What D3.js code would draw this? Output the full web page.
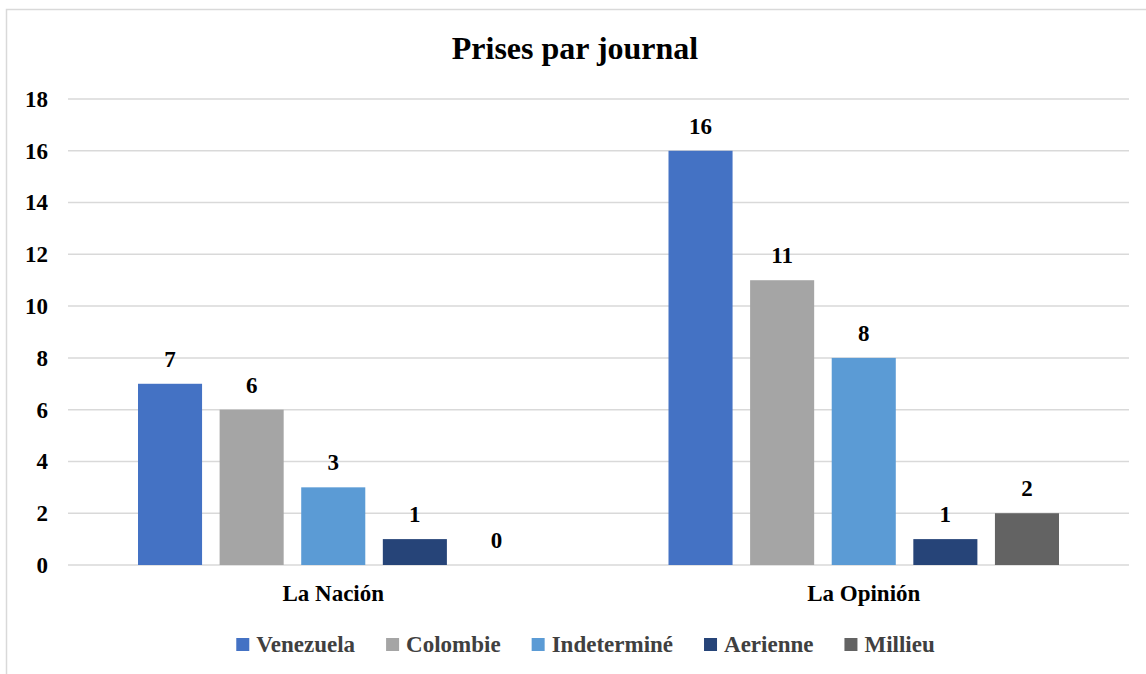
<!DOCTYPE html>
<html>
<head>
<meta charset="utf-8">
<script src="https://cdn.jsdelivr.net/npm/d3@7"></script>
<style>
  body { margin: 0; background: #fff; }
  svg { display: block; }
  text { font-family: "Liberation Serif", "Times New Roman", serif; font-weight: bold; }
</style>
</head>
<body>
<div id="visual"></div>
<script>
// data
var groups = ["La Nación", "La Opinión"]
var series = ["Venezuela", "Colombie", "Indeterminé", "Aerienne", "Millieu"]
var colors = ["#4472C4", "#A5A5A5", "#5B9BD5", "#264478", "#636363"]
var laNacion = [7, 6, 3, 1, 0]
var laOpinion = [16, 11, 8, 1, 2]
var yTicks = [0, 2, 4, 6, 8, 10, 12, 14, 16, 18]

var values = [laNacion, laOpinion]
var data = []
groups.forEach(function(g, gi) {
  series.forEach(function(s, si) {
    data.push({ group: g, key: s, value: values[gi][si] })
  })
})

var width = 1146, height = 674
var plot = { left: 68, right: 1129, top: 99, bottom: 565 }

var svg = d3.select("#visual")
  .append("svg")
  .attr("width", width)
  .attr("height", height)

// chart frame (cut by the picture at right and bottom)
svg.append("rect")
  .attr("x", 6.5).attr("y", 9.5)
  .attr("width", 1180).attr("height", 700)
  .attr("fill", "none")
  .attr("stroke", "#d9d9d9")
  .attr("stroke-width", 1.5)

// title
svg.append("text")
  .attr("x", 575).attr("y", 59)
  .attr("text-anchor", "middle")
  .style("font-size", "32px")
  .attr("fill", "#000")
  .text("Prises par journal")

var y = d3.scaleLinear()
  .domain([0, 18])
  .range([plot.bottom, plot.top])

var x0 = d3.scaleBand()
  .domain(groups)
  .range([plot.left, plot.right])
  .padding(0)

var inner = 70
var x1 = d3.scaleBand()
  .domain(series)
  .range([inner, x0.bandwidth() - inner])
  .paddingInner(0.215)
  .paddingOuter(0)

var color = d3.scaleOrdinal().domain(series).range(colors)

// gridlines
svg.append("g")
  .selectAll("line")
  .data(yTicks)
  .enter()
  .append("line")
  .attr("x1", plot.left).attr("x2", plot.right)
  .attr("y1", function(d) { return y(d) })
  .attr("y2", function(d) { return y(d) })
  .attr("stroke", "#d9d9d9")
  .attr("stroke-width", 1.5)

// y axis labels
var yAxis = svg.append("g")
  .attr("transform", "translate(" + (plot.left - 20) + ",0)")
  .call(d3.axisLeft(y).tickValues(yTicks).tickSize(0).tickPadding(0))
yAxis.select(".domain").remove()
yAxis.selectAll("text")
  .style("font-size", "23px")
  .style("font-family", "'Liberation Serif', 'Times New Roman', serif")
  .style("font-weight", "bold")
  .attr("fill", "#000")

// x axis labels
var xAxis = svg.append("g")
  .attr("transform", "translate(0," + plot.bottom + ")")
  .call(d3.axisBottom(x0).tickSize(0).tickPadding(0))
xAxis.select(".domain").remove()
xAxis.selectAll("text")
  .attr("dy", null)
  .attr("y", 36)
  .style("font-size", "23px")
  .style("font-family", "'Liberation Serif', 'Times New Roman', serif")
  .style("font-weight", "bold")
  .attr("fill", "#000")

// bars
var bars = svg.append("g")
bars.selectAll("rect")
  .data(data)
  .enter()
  .append("rect")
  .attr("x", function(d) { return x0(d.group) + x1(d.key) })
  .attr("y", function(d) { return y(d.value) })
  .attr("width", x1.bandwidth())
  .attr("height", function(d) { return y(0) - y(d.value) })
  .attr("fill", function(d) { return color(d.key) })

// value labels
bars.selectAll("text")
  .data(data)
  .enter()
  .append("text")
  .attr("x", function(d) { return x0(d.group) + x1(d.key) + x1.bandwidth() / 2 })
  .attr("y", function(d) { return y(d.value) - 17 })
  .attr("text-anchor", "middle")
  .style("font-size", "23px")
  .attr("fill", "#000")
  .text(function(d) { return d.value })

// legend
var legend = svg.append("g")
var lx = 0
series.forEach(function(s) {
  var item = legend.append("g").attr("transform", "translate(" + lx + ",0)")
  item.append("rect")
    .attr("x", 0).attr("y", 638)
    .attr("width", 13).attr("height", 13)
    .attr("fill", color(s))
  var t = item.append("text")
    .attr("x", 20).attr("y", 652)
    .style("font-size", "23px")
    .attr("fill", "#404040")
    .text(s)
  lx += 20 + t.node().getComputedTextLength() + 31
})
var lw = lx - 31
legend.attr("transform", "translate(" + (585.5 - lw / 2) + ",0)")
</script>
</body>
</html>
